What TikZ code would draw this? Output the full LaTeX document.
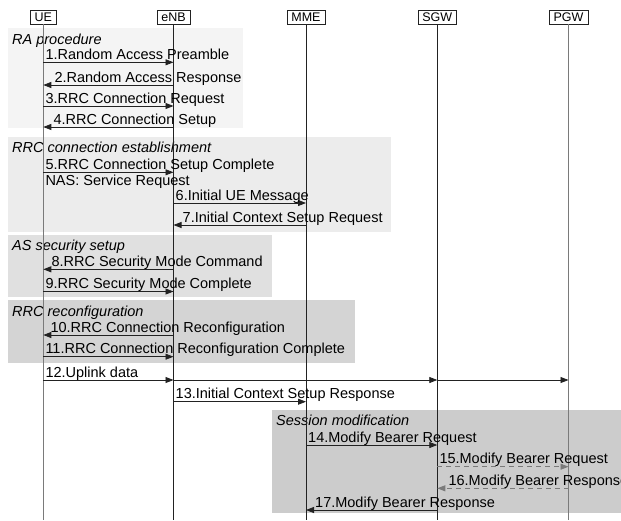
\documentclass[tikz,border=0pt]{standalone}
\usepackage{fontspec}
\setmainfont{Liberation Sans}
\usetikzlibrary{arrows.meta}
\definecolor{gA}{HTML}{F4F4F4}
\definecolor{gB}{HTML}{ECECEC}
\definecolor{gC}{HTML}{E0E0E0}
\definecolor{gD}{HTML}{D4D4D4}
\definecolor{gE}{HTML}{CCCCCC}
\definecolor{lineDark}{HTML}{222222}
\definecolor{lineGray}{HTML}{7A7A7A}
\begin{document}
\begin{tikzpicture}[x=1pt,y=-1pt,
  hdr/.style={draw=lineDark, fill=white, line width=0.6pt, inner xsep=4.5pt, inner ysep=2.5pt,
    text height=9pt, text depth=0pt, font=\fontsize{12.5}{14}\selectfont},
  lifeDark/.style={draw=lineDark, line width=0.8pt},
  lifeGray/.style={draw=lineGray, line width=1pt},
  msg/.style={draw=lineDark, line width=0.8pt, -{Triangle[length=8pt,width=6pt]}},
  msgdash/.style={msg, draw=lineGray, dash pattern=on 5pt off 4pt},
  lbl/.style={anchor=base west, inner sep=0pt, font=\fontsize{14.5}{17}\selectfont},
  grp/.style={anchor=base west, inner sep=0pt, font=\fontsize{14.5}{17}\selectfont\itshape},
]
\useasboundingbox (0,0) rectangle (621,520);
\fill[white] (0,0) rectangle (621,520);

% group frames
\fill[gA] (8,28) rectangle (243,128);
\fill[gB] (8,137) rectangle (391,232);
\fill[gC] (8,235) rectangle (272,297);
\fill[gD] (8,300) rectangle (355,363);
\fill[gE] (272,410) rectangle (621,513);
\node[grp] (gRA) at (12,44) {RA procedure};
\node[grp] (gRRC) at (12,152) {RRC connection establishment};
\node[grp] (gAS) at (12,250) {AS security setup};
\node[grp] (gRec) at (12,316) {RRC reconfiguration};
\node[grp] (gSes) at (276,425) {Session modification};

% headers
\node[hdr] (ue) at (43.3,17) {UE};
\node[hdr] (enb) at (173.5,17) {eNB};
\node[hdr] (mme) at (306,17) {MME};
\node[hdr] (sgw) at (437.3,17) {SGW};
\node[hdr] (pgw) at (568.5,17) {PGW};
\coordinate (bottom) at (0,520);
\draw[lifeGray] (ue.south) -- (ue |- bottom);
\draw[lifeDark] (enb.south) -- (enb |- bottom);
\draw[lifeDark] (mme.south) -- (mme |- bottom);
\draw[lifeDark] (sgw.south) -- (sgw |- bottom);
\draw[lifeGray] (pgw.south) -- (pgw |- bottom);

% rows
\coordinate (r1) at (0,62.3);
\coordinate (r2) at (0,85);
\coordinate (r3) at (0,106);
\coordinate (r4) at (0,127);
\coordinate (r5) at (0,172.3);
\coordinate (r6) at (0,203);
\coordinate (r7) at (0,225);
\coordinate (r8) at (0,269.3);
\coordinate (r9) at (0,291.5);
\coordinate (r10) at (0,335);
\coordinate (r11) at (0,356.7);
\coordinate (r12) at (0,380);
\coordinate (r13) at (0,401.7);
\coordinate (r14) at (0,445);
\coordinate (r15) at (0,466.7);
\coordinate (r16) at (0,488.3);
\coordinate (r17) at (0,510);

% messages
\draw[msg] (ue |- r1) -- (enb |- r1);
\node[lbl] (t1) at ([xshift=2pt,yshift=3pt]ue |- r1) {1.Random Access Preamble};
\draw[msg] (enb |- r2) -- (ue |- r2);
\node[lbl] (t2) at ([xshift=11pt,yshift=3pt]ue |- r2) {2.Random Access Response};
\draw[msg] (ue |- r3) -- (enb |- r3);
\node[lbl] (t3) at ([xshift=2pt,yshift=3pt]ue |- r3) {3.RRC Connection Request};
\draw[msg] (enb |- r4) -- (ue |- r4);
\node[lbl] (t4) at ([xshift=10pt,yshift=3pt]ue |- r4) {4.RRC Connection Setup};

\draw[msg] (ue |- r5) -- (enb |- r5);
\node[lbl] (t5) at ([xshift=2pt,yshift=3pt]ue |- r5) {5.RRC Connection Setup Complete};
\node[lbl] (t5b) at ([xshift=2pt,yshift=-13pt]ue |- r5) {NAS: Service Request};
\draw[msg] (enb |- r6) -- (mme |- r6);
\node[lbl] (t6) at ([xshift=2pt,yshift=3pt]enb |- r6) {6.Initial UE Message};
\draw[msg] (mme |- r7) -- (enb |- r7);
\node[lbl] (t7) at ([xshift=9pt,yshift=3pt]enb |- r7) {7.Initial Context Setup Request};

\draw[msg] (enb |- r8) -- (ue |- r8);
\node[lbl] (t8) at ([xshift=8pt,yshift=3pt]ue |- r8) {8.RRC Security Mode Command};
\draw[msg] (ue |- r9) -- (enb |- r9);
\node[lbl] (t9) at ([xshift=2pt,yshift=3pt]ue |- r9) {9.RRC Security Mode Complete};

\draw[msg] (enb |- r10) -- (ue |- r10);
\node[lbl] (t10) at ([xshift=7pt,yshift=3pt]ue |- r10) {10.RRC Connection Reconfiguration};
\draw[msg] (ue |- r11) -- (enb |- r11);
\node[lbl] (t11) at ([xshift=2pt,yshift=3pt]ue |- r11) {11.RRC Connection Reconfiguration Complete};

\draw[msg] (ue |- r12) -- (enb |- r12);
\draw[msg] (enb |- r12) -- (sgw |- r12);
\draw[msg] (sgw |- r12) -- (pgw |- r12);
\node[lbl] (t12) at ([xshift=2pt,yshift=3pt]ue |- r12) {12.Uplink data};
\draw[msg] (enb |- r13) -- (mme |- r13);
\node[lbl] (t13) at ([xshift=2pt,yshift=3pt]enb |- r13) {13.Initial Context Setup Response};

\draw[msg] (mme |- r14) -- (sgw |- r14);
\node[lbl] (t14) at ([xshift=2pt,yshift=3pt]mme |- r14) {14.Modify Bearer Request};
\draw[msgdash] (sgw |- r15) -- (pgw |- r15);
\node[lbl] (t15) at ([xshift=2pt,yshift=3pt]sgw |- r15) {15.Modify Bearer Request};
\draw[msgdash] (pgw |- r16) -- (sgw |- r16);
\node[lbl] (t16) at ([xshift=11pt,yshift=3pt]sgw |- r16) {16.Modify Bearer Response};
\draw[msg] (sgw |- r17) -- (mme |- r17);
\node[lbl] (t17) at ([xshift=9pt,yshift=3pt]mme |- r17) {17.Modify Bearer Response};
\end{tikzpicture}
\end{document}
